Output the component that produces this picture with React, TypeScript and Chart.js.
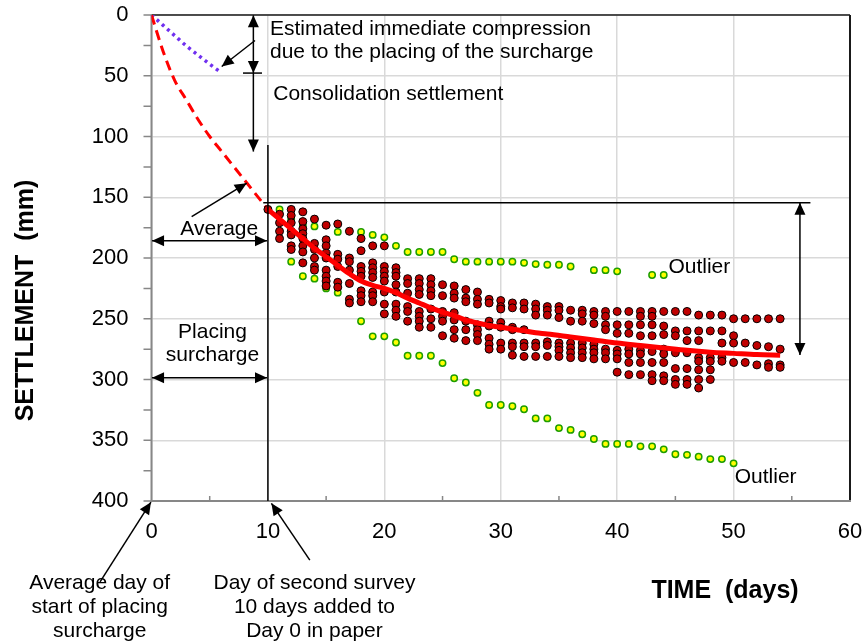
import { useEffect, useRef } from "react";
import { Chart, registerables } from "chart.js";

Chart.register(...registerables);

const FONT = "'Liberation Sans', Arial, Helvetica, sans-serif";

// ---------------- data ----------------
const xTickStep = 10;
const yTickStep = 50;
const xMinorTicks = [5, 15, 25, 35, 45, 55];
const yMinorTicks = [25, 75, 125, 175, 225, 275, 325, 375];

const surveyDays = [10, 11, 12, 13, 14, 15, 16, 17, 18, 19, 20, 21, 22, 23, 24, 25, 26, 27, 28, 29, 30, 31, 32, 33, 34, 35, 36, 37, 38, 39, 40, 41, 42, 43, 44, 45, 46, 47, 48, 49, 50, 51, 52, 53, 54];

// settlement readings (mm) of all plates, one list per survey day
const redReadings: number[][] = [
  [160],
  [164, 171, 178, 184],
  [160, 165, 171, 178, 181, 190, 193],
  [162, 170, 176, 180, 184, 190, 195, 204],
  [168, 188, 193, 200, 207, 210],
  [173, 185, 190, 196, 200, 210, 215, 219, 223],
  [172, 197, 201, 207, 220, 224],
  [178, 200, 203, 210, 221, 234, 237],
  [184, 194, 207, 211, 215, 227, 231, 236],
  [190, 204, 208, 212, 216, 228, 231, 236],
  [190, 207, 211, 215, 219, 228, 238, 246],
  [208, 212, 215, 222, 228, 238, 243, 248],
  [217, 221, 229, 240, 244, 252],
  [217, 221, 226, 230, 244, 248, 252, 257],
  [217, 222, 227, 231, 242, 250, 257],
  [222, 231, 244, 248, 252, 264],
  [223, 229, 233, 245, 251, 259, 266],
  [226, 233, 236, 252, 259, 268],
  [228, 234, 238, 255, 259, 263, 268],
  [234, 237, 252, 256, 266, 271, 275],
  [235, 240, 242, 253, 257, 270, 275],
  [237, 241, 257, 259, 270, 273, 280],
  [237, 242, 259, 270, 273, 281],
  [238, 242, 247, 270, 273, 281],
  [240, 243, 247, 269, 272, 281],
  [240, 243, 249, 270, 273, 276, 281],
  [243, 252, 270, 274, 278, 282],
  [243, 246, 252, 270, 274, 278, 282],
  [244, 247, 254, 271, 275, 278, 283],
  [244, 248, 255, 259, 275, 278, 283],
  [244, 255, 262, 276, 279, 283, 294],
  [244, 255, 262, 275, 279, 286, 296],
  [244, 248, 255, 264, 276, 279, 286, 296],
  [244, 248, 255, 264, 277, 286, 296, 301],
  [244, 256, 263, 275, 279, 286, 297, 301],
  [244, 260, 264, 278, 291, 300, 304],
  [244, 260, 268, 278, 291, 300, 304],
  [247, 260, 268, 282, 285, 292, 300, 307],
  [247, 260, 282, 285, 292, 300],
  [247, 260, 270, 282, 285],
  [250, 264, 270, 286],
  [250, 270, 286],
  [250, 272, 288],
  [250, 273, 287, 290],
  [250, 275, 288, 290],
];

const upperOutlierDays = [11, 12, 13, 14, 16, 18, 19, 20, 21, 22, 23, 24, 25, 26, 27, 28, 29, 30, 31, 32, 33, 34, 35, 36, 38, 39, 40, 43, 44];
const upperOutlierSettlement = [160, 168, 173, 174, 178.5, 178.5, 181, 183, 190, 195, 195, 195, 195, 201, 203, 203, 203, 203, 203, 204, 205, 205.5, 205.5, 207, 210, 210, 211, 214, 214];

const lowerOutlierDays = [12, 13, 14, 15, 16, 18, 19, 20, 21, 22, 23, 24, 25, 26, 27, 28, 29, 30, 31, 32, 33, 34, 35, 36, 37, 38, 39, 40, 41, 42, 43, 44, 45, 46, 47, 48, 49, 50];
const lowerOutlierSettlement = [203, 215, 217, 225, 228.5, 252, 264.5, 264.5, 269.5, 280.5, 280.5, 280.5, 286.5, 299, 302.5, 311, 321, 321, 322, 324.5, 332, 332, 340, 341.5, 345, 349, 353, 353, 353, 355, 355, 357.5, 361.5, 362, 363.5, 365.5, 365.5, 369];

const trendDays = [10, 11, 12, 13, 14, 15, 16, 17, 18, 19, 20, 21, 22, 23, 24, 25, 26, 27, 28, 29, 30, 31, 32, 33, 34, 36, 38, 40, 42, 44, 46, 48, 50, 52, 54];
const trendSettlement = [160, 168, 176, 184, 192, 199, 206, 213, 219, 222.5, 225, 228.5, 233, 237, 241, 244.5, 247.5, 251, 253.5, 255.5, 257, 258.5, 260, 261.5, 262.5, 265, 267.5, 270, 272, 274, 276, 277.5, 278.5, 279.5, 280];

const placingDays = [0, 1, 2, 3, 4, 5, 6, 7, 8, 9, 10];
const placingSettlement = [0, 30, 54, 70, 86, 100, 112, 124, 136, 148, 160];

const immediateDays = [0, 1, 2, 3, 4, 5, 6];
const immediateSettlement = [0, 8.5, 17, 25.5, 33, 40.5, 47.5];

// ---------------- annotations (data units) ----------------
type Pt = [number, number];
const arrows: { from: Pt; to: Pt; start?: boolean; end?: boolean }[] = [
  { from: [8.75, 0.3], to: [8.75, 47.8], start: true, end: true },
  { from: [8.75, 47.8], to: [8.75, 112.4], end: true },
  { from: [8.89, 21], to: [6.03, 42.4], end: true },
  { from: [3.45, 165.9], to: [8.18, 138.4], end: true },
  { from: [0.05, 185.7], to: [9.92, 185.7], start: true, end: true },
  { from: [0.05, 298.5], to: [9.92, 298.5], start: true, end: true },
  { from: [55.7, 154.6], to: [55.7, 279.8], start: true, end: true },
  { from: [-4.42, 466.6], to: [-0.05, 401], end: true },
  { from: [13.6, 448.6], to: [10.3, 401.9], end: true },
];
const lines: { from: Pt; to: Pt }[] = [
  { from: [7.86, 47.8], to: [9.49, 47.8] },
  { from: [10, 107], to: [10, 400] },
  { from: [9.6, 154.6], to: [56.6, 154.6] },
];
const notes: { text: string; at: Pt; align: CanvasTextAlign }[] = [
  { text: "Estimated immediate compression", at: [10.18, 11.3], align: "left" },
  { text: "due to the placing of the surcharge", at: [10.18, 30.3], align: "left" },
  { text: "Consolidation settlement", at: [10.46, 65.3], align: "left" },
  { text: "Average", at: [5.82, 176.3], align: "center" },
  { text: "Placing", at: [5.24, 260.9], align: "center" },
  { text: "surcharge", at: [5.24, 279.8], align: "center" },
  { text: "Outlier", at: [44.4, 207.5], align: "left" },
  { text: "Outlier", at: [50.1, 380.2], align: "left" },
  { text: "Average day of", at: [-4.45, 467.8], align: "center" },
  { text: "start of placing", at: [-4.45, 487.5], align: "center" },
  { text: "surcharge", at: [-4.45, 506.8], align: "center" },
  { text: "Day of second survey", at: [14.0, 467.8], align: "center" },
  { text: "10 days added to", at: [14.0, 487.5], align: "center" },
  { text: "Day 0 in paper", at: [14.0, 506.8], align: "center" },
];

function head(ctx: CanvasRenderingContext2D, x0: number, y0: number, x1: number, y1: number) {
  const a = Math.atan2(y1 - y0, x1 - x0);
  const L = 12;
  const W = 5.5;
  const bx = x1 - L * Math.cos(a);
  const by = y1 - L * Math.sin(a);
  ctx.beginPath();
  ctx.moveTo(x1, y1);
  ctx.lineTo(bx + W * Math.sin(a), by - W * Math.cos(a));
  ctx.lineTo(bx - W * Math.sin(a), by + W * Math.cos(a));
  ctx.closePath();
  ctx.fill();
}

const chartDecor = {
  id: "chartDecor",
  beforeDatasetsDraw(chart: any) {
    const { ctx, chartArea: a, scales } = chart;
    const sx = (v: number) => scales.x.getPixelForValue(v);
    const sy = (v: number) => scales.y.getPixelForValue(v);
    ctx.save();
    // tick marks
    ctx.strokeStyle = "#878787";
    ctx.lineWidth = 1.5;
    ctx.beginPath();
    for (let v = 0; v <= 400; v += yTickStep) {
      ctx.moveTo(a.left - 8, sy(v));
      ctx.lineTo(a.left, sy(v));
    }
    yMinorTicks.forEach((v) => {
      ctx.moveTo(a.left - 8, sy(v));
      ctx.lineTo(a.left, sy(v));
    });
    xMinorTicks.forEach((v) => {
      ctx.moveTo(sx(v), a.bottom);
      ctx.lineTo(sx(v), a.bottom - 5);
    });
    ctx.stroke();
    // frame
    ctx.strokeStyle = "#1a1a1a";
    ctx.lineWidth = 1.5;
    ctx.beginPath();
    ctx.moveTo(a.left, a.top);
    ctx.lineTo(a.right, a.top);
    ctx.stroke();
    ctx.lineWidth = 2;
    ctx.beginPath();
    ctx.moveTo(a.right, a.top);
    ctx.lineTo(a.right, a.bottom);
    ctx.stroke();
    ctx.strokeStyle = "#878787";
    ctx.lineWidth = 2;
    ctx.beginPath();
    ctx.moveTo(a.left, a.top);
    ctx.lineTo(a.left, a.bottom);
    ctx.lineTo(a.right + 1, a.bottom);
    ctx.stroke();
    ctx.restore();
  },
  afterDatasetsDraw(chart: any) {
    const { ctx, scales } = chart;
    const sx = (v: number) => scales.x.getPixelForValue(v);
    const sy = (v: number) => scales.y.getPixelForValue(v);
    ctx.save();
    ctx.strokeStyle = "#000";
    ctx.fillStyle = "#000";
    ctx.lineWidth = 1.5;
    lines.forEach((l) => {
      ctx.beginPath();
      ctx.moveTo(sx(l.from[0]), sy(l.from[1]));
      ctx.lineTo(sx(l.to[0]), sy(l.to[1]));
      ctx.stroke();
    });
    arrows.forEach((r) => {
      const x0 = sx(r.from[0]);
      const y0 = sy(r.from[1]);
      const x1 = sx(r.to[0]);
      const y1 = sy(r.to[1]);
      ctx.beginPath();
      ctx.moveTo(x0, y0);
      ctx.lineTo(x1, y1);
      ctx.stroke();
      if (r.end) head(ctx, x0, y0, x1, y1);
      if (r.start) head(ctx, x1, y1, x0, y0);
    });
    ctx.font = `21px ${FONT}`;
    ctx.textBaseline = "middle";
    notes.forEach((n) => {
      ctx.textAlign = n.align;
      ctx.fillText(n.text, sx(n.at[0]), sy(n.at[1]));
    });
    // axis titles
    ctx.font = `bold 25px ${FONT}`;
    ctx.textAlign = "center";
    ctx.fillText("TIME  (days)", 725, 591);
    ctx.translate(26, 300.5);
    ctx.rotate(-Math.PI / 2);
    ctx.fillText("SETTLEMENT  (mm)", 0, 0);
    ctx.restore();
  },
};

export default function App() {
  const ref = useRef<HTMLCanvasElement>(null);

  useEffect(() => {
    const canvas = ref.current;
    if (!canvas) return;

    const redPoints: { x: number; y: number }[] = [];
    surveyDays.forEach((d, i) => {
      redReadings[i].forEach((s) => redPoints.push({ x: d, y: s }));
    });
    const toPts = (xs: number[], ys: number[]) => xs.map((x, i) => ({ x, y: ys[i] }));

    const chart = new Chart(canvas, {
      type: "scatter",
      data: {
        datasets: [
          {
            label: "Average",
            data: toPts(trendDays, trendSettlement),
            showLine: true,
            borderColor: "#ff0000",
            borderWidth: 5,
            pointRadius: 0,
            cubicInterpolationMode: "monotone",
            order: 0,
          } as any,
          {
            label: "Readings",
            data: redPoints,
            backgroundColor: "#c00000",
            borderColor: "#000000",
            borderWidth: 1,
            pointRadius: 4,
            order: 1,
          },
          {
            label: "Upper outlier",
            data: toPts(upperOutlierDays, upperOutlierSettlement),
            backgroundColor: "#ffff00",
            borderColor: "#1e9e00",
            borderWidth: 1.5,
            pointRadius: 3.2,
            order: 2,
          },
          {
            label: "Lower outlier",
            data: toPts(lowerOutlierDays, lowerOutlierSettlement),
            backgroundColor: "#ffff00",
            borderColor: "#1e9e00",
            borderWidth: 1.5,
            pointRadius: 3.2,
            order: 2,
          },
          {
            label: "Placing",
            data: toPts(placingDays, placingSettlement),
            showLine: true,
            borderColor: "#ff0000",
            borderWidth: 3,
            borderDash: [10, 6],
            pointRadius: 0,
            cubicInterpolationMode: "monotone",
            order: 3,
          } as any,
          {
            label: "Immediate",
            data: toPts(immediateDays, immediateSettlement),
            showLine: true,
            borderColor: "#7030f0",
            borderWidth: 3.5,
            borderDash: [3, 4],
            pointRadius: 0,
            cubicInterpolationMode: "monotone",
            order: 3,
          } as any,
        ],
      },
      options: {
        responsive: false,
        animation: false,
        devicePixelRatio: 1,
        events: [],
        layout: { padding: { left: 0, right: 16, top: 15, bottom: 0 } },
        plugins: {
          legend: { display: false },
          tooltip: { enabled: false },
        },
        scales: {
          x: {
            type: "linear",
            min: 0,
            max: 60,
            afterFit: (s: any) => {
              s.height = 142;
              s.paddingLeft = 0;
              s.paddingRight = 0;
            },
            ticks: {
              stepSize: xTickStep,
              autoSkip: false,
              color: "#000",
              padding: 18,
              font: { family: FONT, size: 22 },
            },
            grid: { color: "#d9d9d9", lineWidth: 1.5, drawTicks: false },
            border: { display: false },
          },
          y: {
            type: "linear",
            min: 0,
            max: 400,
            reverse: true,
            afterFit: (s: any) => {
              s.width = 151.5;
              s.paddingTop = 0;
              s.paddingBottom = 0;
            },
            ticks: {
              stepSize: yTickStep,
              autoSkip: false,
              color: "#000",
              padding: 23,
              font: { family: FONT, size: 22 },
            },
            grid: { color: "#d9d9d9", lineWidth: 1.5, drawTicks: false },
            border: { display: false },
          },
        },
      },
      plugins: [chartDecor],
    });

    return () => chart.destroy();
  }, []);

  return (
    <div style={{ position: "fixed", left: 0, top: 0, width: 866, height: 643, background: "#fff" }}>
      <canvas ref={ref} width={866} height={643} style={{ display: "block", width: 866, height: 643 }} />
    </div>
  );
}
